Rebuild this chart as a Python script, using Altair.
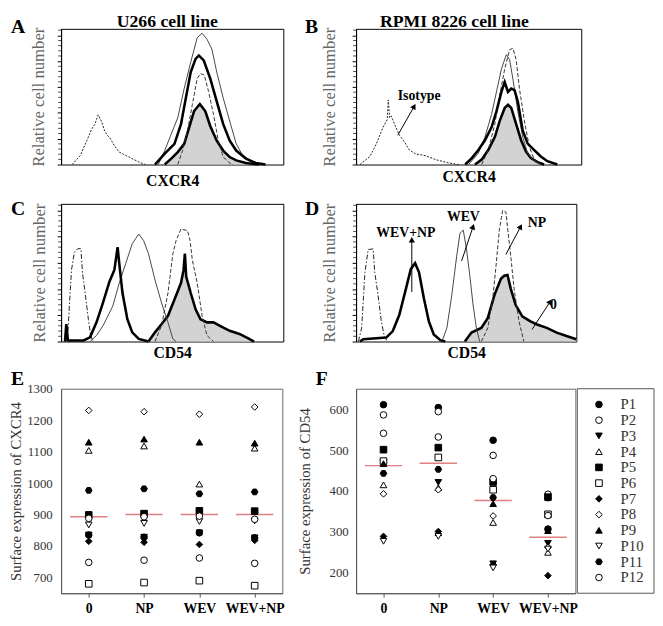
import math
import altair as alt
import pandas as pd

SERIF = "Liberation Serif"
YMAX = 5.25
RED = "#d24b4b"

# ---------------- histogram curves: (fluorescence channel 0-100, relative count) ----------------
A_ISOTYPE = [(4.97,0),(8.63,.35),(11.55,.92),(13.74,1.37),(15.2,1.56),(16.67,1.92),(18.13,1.68),(19.59,1.30),(21.05,1.11),(21.78,1.05),(23.98,.73),(26.17,.48),(30.56,.29),(34.94,.10),(37.87,0)]
A_THIN = [(43.71,0),(46.64,.54),(49.56,1.18),(52.49,1.81),(55.41,2.95),(58.33,3.96),(61.26,4.91),(63.45,5.08),(65.64,4.85),(67.84,4.47),(70.03,3.58),(72.95,2.57),(75.88,1.68),(78.8,.80),(81.73,.35),(86.11,.10),(90.5,0)]
A_THICK = [(42.25,0),(46.64,.42),(51.02,.80),(53.95,1.56),(56.14,2.57),(58.33,3.58),(60.53,4.09),(61.99,4.22),(64.18,4.03),(67.11,3.33),(70.03,2.44),(72.95,1.56),(75.88,.92),(78.8,.54),(83.19,.23),(87.57,.06),(91.96,0)]
A_DASHED = [(52.49,0),(54.68,.54),(56.87,1.30),(59.06,2.32),(61.26,3.33),(62.72,3.52),(64.47,3.46),(66.37,2.82),(68.57,1.94),(70.76,.92),(72.95,.29),(75.88,.06),(77.34,0)]
A_FILLED = [(46.64,0),(49.56,.23),(52.49,.48),(55.41,.80),(57.6,1.43),(59.8,2.06),(62.43,2.34),(64.91,2.06),(67.11,1.49),(70.03,.92),(72.95,.54),(75.88,.29),(78.8,.16),(83.19,.06),(89.04,0)]

B_ISOTYPE = [(1.75,0),(6.13,.31),(9.05,.81),(11.97,1.44),(13.87,1.75),(14.31,2.5),(14.89,1.81),(15.62,1.88),(17.08,1.56),(19.27,1.13),(21.46,.88),(23.65,.56),(26.57,.41),(30.95,.34),(35.33,.19),(41.17,.06),(45.55,0)]
B_THIN = [(49.93,0),(54.31,.44),(57.23,1.06),(60.15,1.94),(62.34,2.81),(64.53,3.69),(66.72,4.25),(68.18,4.06),(69.64,3.31),(71.82,2.06),(74.01,1.06),(76.2,.44),(79.12,.13),(82.04,0)]
B_DASHED = [(55.77,0),(58.69,.56),(61.61,1.56),(63.8,2.69),(65.99,3.69),(68.18,4.44),(69.64,4.5),(71.09,4.06),(72.55,2.94),(74.74,1.69),(76.93,.69),(79.12,.19),(81.31,0)]
B_THICK = [(48.47,0),(51.39,.25),(54.31,.56),(57.23,.94),(60.15,1.44),(62.34,2.06),(64.53,2.81),(65.99,3.19),(67.45,2.81),(68.91,2.94),(70.36,2.88),(71.82,2.44),(74.01,1.31),(76.2,.81),(79.12,.56),(82.04,.31),(84.96,.13),(89.34,0)]
B_FILLED = [(52.85,0),(55.77,.19),(58.69,.56),(61.61,1.06),(63.8,1.69),(65.99,2.19),(67.45,2.31),(68.91,2.19),(71.09,1.56),(73.28,.94),(75.47,.5),(77.66,.25),(80.58,.09),(83.5,0)]

C_ISOTYPE = [(2.05,0),(3.07,.35),(3.8,1.48),(4.68,2.73),(5.99,3.41),(7.46,3.54),(8.92,3.54),(9.65,2.6),(10.82,1.85),(12.28,.85),(13.3,.23),(14.47,0)]
C_WEVNP = [(1.75,0),(2.34,.66),(3.07,.04),(10.09,.04),(13.01,.16),(15.94,.73),(18.86,1.48),(21.78,2.29),(23.98,2.73),(25.44,3.6),(26.17,2.98),(27.63,1.85),(29.82,.85),(32.02,.35),(34.94,.10),(39.33,0)]
C_WEV = [(13.01,0),(15.94,.23),(18.86,.6),(23.25,1.35),(26.17,2.23),(29.09,2.98),(32.02,3.73),(34.94,4.1),(37.13,3.85),(39.33,3.35),(42.25,2.35),(45.18,1.48),(48.1,.73),(50.29,.10),(51.75,0)]
C_NP = [(42.25,0),(45.18,.6),(48.1,1.85),(50.29,3.35),(51.75,3.85),(53.95,4.29),(56.87,4.23),(58.04,3.85),(59.06,3.1),(61.26,2.23),(63.45,.98),(65.64,.23),(68.57,0)]
C_CONTROL = [(39.33,0),(42.25,.35),(45.18,.66),(48.1,.98),(51.02,1.6),(53.95,2.23),(55.12,2.73),(55.7,3.35),(56.29,2.48),(58.33,1.85),(60.53,1.23),(62.72,.85),(65.64,.73),(68.57,.73),(71.49,.6),(75.88,.41),(80.26,.29),(84.65,.10),(86.84,0)]

D_ISOTYPE = [(1.04,0),(2.53,.52),(4.02,2.64),(5.51,3.51),(7.74,3.53),(8.48,2.64),(9.97,1.77),(11.46,.77),(12.95,.15),(14.43,0)]
D_WEVNP = [(1.79,0),(3.27,.09),(13.69,.15),(16.67,.40),(19.64,1.02),(22.62,2.01),(24.85,2.76),(26.79,2.99),(28.57,2.64),(30.8,1.64),(33.04,.77),(35.27,.27),(38.24,.05),(40.48,0)]
D_WEV = [(38.99,0),(41.22,.52),(43.45,1.77),(45.68,3.26),(47.17,4.13),(48.66,4.25),(50.15,3.51),(51.64,2.51),(53.13,1.39),(54.61,.52),(56.1,0)]
D_NP = [(56.85,0),(59.82,.52),(62.05,1.64),(63.54,2.89),(65.03,4.25),(66.52,5.0),(68.01,4.94),(69.05,4.13),(70.24,3.26),(71.73,2.01),(73.96,.77),(76.19,0)]
D_CONTROL = [(49.4,0),(52.38,.34),(56.85,.52),(59.82,.90),(62.8,1.77),(65.77,2.39),(67.26,2.51),(68.75,2.54),(70.24,2.01),(72.47,1.39),(75.45,.96),(79.17,.77),(82.14,.65),(86.61,.52),(91.07,.34),(95.54,.21),(100,.09)]

MAJOR_TICKS = [0, 1, 2, 3, 4, 5]
MINOR_TICKS = [0.2,0.4,0.6,0.8,1.2,1.4,1.6,1.8,2.2,2.4,2.6,2.8,3.2,3.4,3.6,3.8,4.2,4.4,4.6,4.8,5.2]

# annotations (data coordinates)
B_NOTE_TEXT = ["Isotype"]
B_NOTE_X = [28.0]
B_NOTE_Y = [2.63]
B_ARROWS = [(18.5, 1.13, 25.8, 2.25)]
D_NOTE_TEXT = ["WEV+NP", "WEV", "NP", "0"]
D_NOTE_X = [22.6, 48.7, 82.1, 89.6]
D_NOTE_Y = [4.15, 4.75, 4.5, 1.39]
D_ARROWS = [(25.3, 1.89, 25.3, 3.88), (47.9, 3.07, 53.1, 4.38), (68.0, 3.32, 74.7, 4.38), (79.9, 0.46, 88.1, 1.52)]

# ---------------- scatter data (P1..P12 per treatment) ----------------
TREATMENTS = ["0", "NP", "WEV", "WEV+NP"]
PATIENTS = ["P1","P2","P3","P4","P5","P6","P7","P8","P9","P10","P11","P12"]
CXCR4_0 = [835, 748, 835, 1104, 899, 680, 815, 1231, 1130, 867, 977, 888]
CXCR4_NP = [828, 755, 828, 1118, 903, 684, 812, 1227, 1140, 872, 982, 893]
CXCR4_WEV = [842, 762, 842, 997, 912, 690, 805, 1219, 1130, 878, 966, 895]
CXCR4_WEVNP = [826, 745, 826, 1111, 911, 674, 818, 1242, 1127, 880, 972, 885]
CXCR4_MEAN = [893, 900, 900, 900]
CD54_0 = [611, 586, 470, 415, 501, 473, 289, 393, 467, 277, 443, 541]
CD54_NP = [604, 594, 421, 408, 506, 482, 301, 403, 298, 289, 453, 532]
CD54_WEV = [524, 487, 222, 323, 422, 403, 220, 339, 369, 212, 384, 430]
CD54_WEVNP = [307, 392, 272, 250, 385, 343, 193, 262, 303, 258, 383, 340]
CD54_MEAN = [462, 468, 377, 287]

HEX = "M-1,0L-0.5,-0.866L0.5,-0.866L1,0L0.5,0.866L-0.5,0.866Z"
SHAPES = ["circle","circle","triangle-down","triangle-up","square","square","diamond","diamond","triangle-up","triangle-down",HEX,"circle"]
FILLS = ["black","white","black","white","black","white","black","white","black","white","black","white"]

LINE_STYLES = {
    "iso": dict(color="#222", strokeWidth=1, strokeDash=[2, 1.5]),
    "isodd": dict(color="#222", strokeWidth=1, strokeDash=[5, 2, 1.5, 2]),
    "thin": dict(color="#444", strokeWidth=1),
    "thick": dict(color="black", strokeWidth=2.6),
    "dash": dict(color="#333", strokeWidth=1, strokeDash=[4, 2]),
}


def text_mark(txt, x, y, size, weight="bold", color="black", align="left"):
    return alt.Chart(pd.DataFrame({"t": [txt]})).mark_text(
        font=SERIF, fontSize=size, fontWeight=weight, color=color, align=align, baseline="alphabetic"
    ).encode(text="t:N", x=alt.value(x), y=alt.value(y))


def hist_panel(curves, w, h, xtitle, xtitle_y, ytitle_x, extras, notes=None, arrows=None):
    xs = alt.Scale(domain=[0, 100], nice=False, zero=False)
    ys = alt.Scale(domain=[0, YMAX], nice=False, zero=False)
    xax = alt.Axis(title=xtitle, labels=False, ticks=False, domain=False, grid=False,
                   titleFont=SERIF, titleFontSize=16, titleFontWeight="bold", titleColor="black",
                   titleY=xtitle_y, titleBaseline="alphabetic")
    yax = alt.Axis(title="Relative cell number", values=MAJOR_TICKS, labels=False, ticks=True, tickSize=4,
                   tickColor="black", domain=True, domainColor="black", grid=False,
                   titleFont=SERIF, titleFontSize=17, titleFontWeight="normal", titleColor="#666",
                   titleX=ytitle_x, titleY=h / 2, titleAngle=270, titleBaseline="alphabetic", titleAlign="center")
    X = alt.X("x:Q", scale=xs, axis=xax)
    Y = alt.Y("y:Q", scale=ys, axis=yax)
    layers = []
    for kind, pts in curves:
        df = pd.DataFrame(pts, columns=["x", "y"])
        if kind == "filled":
            layers.append(alt.Chart(df).mark_area(color="#d3d3d3", interpolate="linear").encode(x=X, y=Y))
            kind = "thick"
        layers.append(alt.Chart(df).mark_line(interpolate="linear", **LINE_STYLES[kind]).encode(x=X, y=Y))
    layers.append(
        alt.Chart(pd.DataFrame({"y": MINOR_TICKS})).mark_tick(color="black", thickness=1, size=3, orient="horizontal")
        .encode(y=Y, x=alt.value(-1.5))
    )
    if notes:
        tx, ty, tt = notes
        ndf = pd.DataFrame({"x": tx, "y": ty, "t": tt})
        layers.append(alt.Chart(ndf).mark_text(font=SERIF, fontSize=14, fontWeight="bold", color="black",
                                               baseline="middle").encode(x=X, y=Y, text="t:N"))
    if arrows:
        rows = []
        for x1, y1, x2, y2 in arrows:
            dx = (x2 - x1) / 100 * w
            dy = (y2 - y1) / YMAX * h
            rows.append(dict(x=x1, y=y1, x2=x2, y2=y2, ang=math.degrees(math.atan2(dx, dy)) % 360))
        adf = pd.DataFrame(rows)
        layers.append(alt.Chart(adf).mark_rule(color="black", strokeWidth=1).encode(x=X, y=Y, x2="x2:Q", y2="y2:Q"))
        layers.append(alt.Chart(adf).mark_point(shape="triangle-up", filled=True, color="black", size=40, opacity=1)
                      .encode(x=alt.X("x2:Q", scale=xs, axis=xax), y=alt.Y("y2:Q", scale=ys, axis=yax),
                              angle=alt.Angle("ang:Q", scale=None)))
    layers.extend(extras)
    return alt.layer(*layers).properties(width=w, height=h, view=alt.ViewBackground(stroke="black", strokeWidth=1))


def legend_layers(x0, w, h):
    """Patient key drawn beside the F panel (box, symbols, labels)."""
    df = pd.DataFrame({"p": PATIENTS})
    Y = alt.Y("p:N", scale=alt.Scale(type="point", domain=PATIENTS, padding=1.04), axis=None, sort=PATIENTS)
    box = alt.Chart(pd.DataFrame({"a": [0]})).mark_rect(fill="white", fillOpacity=0, stroke="#555", strokeWidth=1).encode(
        x=alt.value(x0), x2=alt.value(x0 + w), y=alt.value(0), y2=alt.value(h))
    sym = alt.Chart(df).mark_point(filled=True, size=45, stroke="black", strokeWidth=1, opacity=1).encode(
        y=Y, x=alt.value(x0 + 22),
        shape=alt.Shape("p:N", scale=alt.Scale(domain=PATIENTS, range=SHAPES), legend=None),
        fill=alt.Fill("p:N", scale=alt.Scale(domain=PATIENTS, range=FILLS), legend=None),
    )
    lab = alt.Chart(df).mark_text(font=SERIF, fontSize=15, color="#333", align="left", baseline="middle").encode(
        y=Y, x=alt.value(x0 + 44), text="p:N")
    return [box, sym, lab]


def scatter_panel(values, means, domain, ticks, ytitle, ytitle_x, label_pad, w, h, extras, key=False):
    rows = []
    order = [2] + [i for i in range(12) if i != 2]
    for ti, t in enumerate(TREATMENTS):
        for pi in order:
            rows.append({"t": t, "p": PATIENTS[pi], "v": values[ti][pi]})
    df = pd.DataFrame(rows)
    xs = alt.Scale(type="point", domain=TREATMENTS, padding=0.5)
    ys = alt.Scale(domain=domain, nice=False, zero=False)
    xax = alt.Axis(title=None, labelAngle=0, labelFont=SERIF, labelFontSize=14, labelFontWeight="bold",
                   labelColor="black", ticks=True, tickSize=4, tickColor="#555", domainColor="#555",
                   labelPadding=5, grid=False)
    yax = alt.Axis(title=ytitle, values=ticks, format="d", ticks=False, labelFont=SERIF, labelFontSize=13,
                   labelColor="#333", labelPadding=label_pad, domainColor="#555", grid=False,
                   titleFont=SERIF, titleFontSize=15, titleFontWeight="normal", titleColor="#333",
                   titleX=ytitle_x, titleY=h / 2, titleAngle=270, titleBaseline="alphabetic", titleAlign="center")
    X = alt.X("t:N", scale=xs, axis=xax, sort=TREATMENTS)
    pts = alt.Chart(df).mark_point(filled=True, size=45, stroke="black", strokeWidth=1, opacity=1).encode(
        x=X,
        y=alt.Y("v:Q", scale=ys, axis=yax),
        shape=alt.Shape("p:N", scale=alt.Scale(domain=PATIENTS, range=SHAPES), legend=None),
        fill=alt.Fill("p:N", scale=alt.Scale(domain=PATIENTS, range=FILLS), legend=None),
    )
    mdf = pd.DataFrame({"t": TREATMENTS, "m": means})
    mline = alt.Chart(mdf).mark_tick(color=RED, thickness=1.5, size=38, orient="horizontal").encode(
        x=X, y=alt.Y("m:Q", scale=ys, axis=None if key else yax))
    layers = [mline, pts] + extras
    if key:
        layers += legend_layers(w + 2, 78, h)
    ch = alt.layer(*layers).properties(width=w, height=h, view=alt.ViewBackground(stroke="#666", strokeWidth=1))
    if key:
        ch = ch.resolve_scale(y="independent")
    return ch


def spacer(w, h):
    return alt.Chart(pd.DataFrame({"a": [0]})).mark_point(opacity=0, size=1).encode(
        x=alt.value(0), y=alt.value(0)).properties(width=w, height=h, view=alt.ViewBackground(stroke="transparent"))


pA = hist_panel([("filled", A_FILLED), ("iso", A_ISOTYPE), ("thin", A_THIN), ("dash", A_DASHED), ("thick", A_THICK)],
                226, 138, "CXCR4", 21, -18,
                [text_mark("A", -51, 4, 20), text_mark("U266 cell line", 108, -2, 18, align="center")])
pB = hist_panel([("filled", B_FILLED), ("iso", B_ISOTYPE), ("thin", B_THIN), ("dash", B_DASHED), ("thick", B_THICK)],
                229, 138, "CXCR4", 17, -22,
                [text_mark("B", -52, 4, 20), text_mark("RPMI 8226 cell line", 100, -2, 18, align="center")],
                notes=(B_NOTE_X, B_NOTE_Y, B_NOTE_TEXT), arrows=B_ARROWS)
pC = hist_panel([("filled", C_CONTROL), ("isodd", C_ISOTYPE), ("thin", C_WEV), ("dash", C_NP), ("thick", C_WEVNP)],
                226, 140, "CD54", 16, -17, [text_mark("C", -51, 11, 20)])
pD = hist_panel([("filled", D_CONTROL), ("isodd", D_ISOTYPE), ("thin", D_WEV), ("dash", D_NP), ("thick", D_WEVNP)],
                224, 140, "CD54", 16, -22, [text_mark("D", -52, 11, 20)],
                notes=(D_NOTE_X, D_NOTE_Y, D_NOTE_TEXT), arrows=D_ARROWS)
pE = scatter_panel([CXCR4_0, CXCR4_NP, CXCR4_WEV, CXCR4_WEVNP], CXCR4_MEAN, [650, 1300],
                   [700, 800, 900, 1000, 1100, 1200, 1300], "Surface expression of CXCR4", -41, 9,
                   225, 208, [text_mark("E", -51, -4, 20)])
pF = scatter_panel([CD54_0, CD54_NP, CD54_WEV, CD54_WEVNP], CD54_MEAN, [150, 650],
                   [200, 300, 400, 500, 600], "Surface expression of CD54", -47, 8,
                   223, 208, [text_mark("F", -41, -4, 20)], key=True)

chart = alt.concat(
    pA, spacer(74, 138), pB,
    spacer(1, 40), spacer(1, 40), spacer(1, 40),
    pC, spacer(74, 140), pD,
    spacer(1, 48), spacer(1, 48), spacer(1, 48),
    pE, spacer(64, 208), pF,
    columns=3, spacing=0, bounds="flush", align="none",
).properties(padding={"left": 0, "top": -1, "right": 0, "bottom": -3}).configure_view(stroke="transparent")

chart.save("out.html", embed_options={"renderer": "svg", "actions": False})
